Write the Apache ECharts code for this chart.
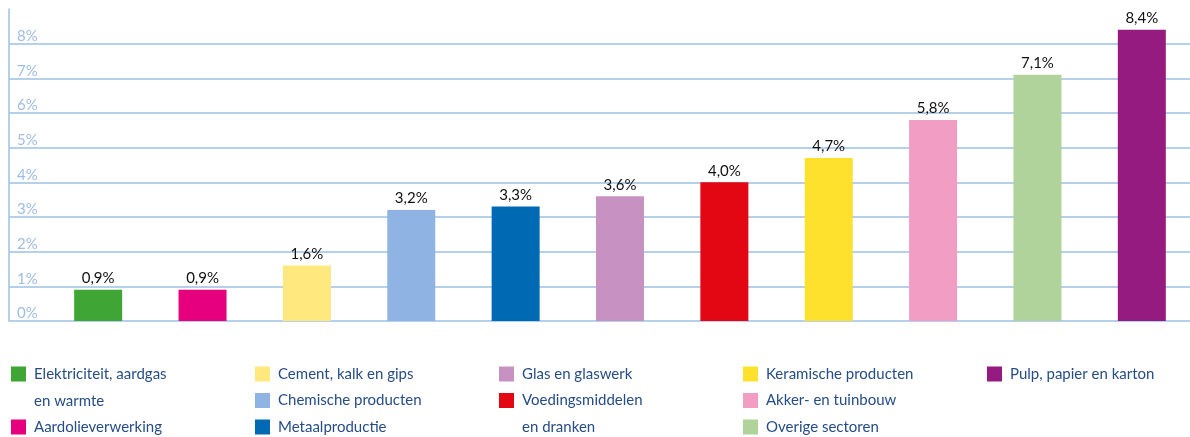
<!DOCTYPE html>
<html>
<head>
<meta charset="utf-8">
<script src="https://cdn.jsdelivr.net/npm/echarts@6/dist/echarts.min.js"></script>
<style>
  html, body { margin: 0; padding: 0; background: #fff; overflow: hidden; }
  #chart { width: 1200px; height: 437px; }
</style>
</head>
<body>
<div id="chart"></div>
<script>
// sectoren (volgorde van de staven)
const sectors = [
  'Elektriciteit, aardgas\nen warmte',
  'Aardolieverwerking',
  'Cement, kalk en gips',
  'Chemische producten',
  'Metaalproductie',
  'Glas en glaswerk',
  'Voedingsmiddelen\nen dranken',
  'Keramische producten',
  'Akker- en tuinbouw',
  'Overige sectoren',
  'Pulp, papier en karton'
]

// waarden in %
const values = [0.9, 0.9, 1.6, 3.2, 3.3, 3.6, 4.0, 4.7, 5.8, 7.1, 8.4]

const colors = [
  '#3fa535', '#e6007e', '#ffe97f', '#8fb4e3', '#0069b4', '#c792c1',
  '#e30613', '#fde12d', '#f29ec4', '#b0d29b', '#951b81'
]

// labels y-as
const yTicks = [0, 1, 2, 3, 4, 5, 6, 7, 8]

// legenda kolommen (index in sectors)
const legendColumns = [[0, 1], [2, 3, 4], [5, 6], [7, 8, 9], [10]]

const gridColor = '#9dc0e6'
const legendColor = '#264d86'
const legendLeft = [11, 255, 499, 743, 987]
const rowTop = 361
const rowH = 26.5

const chart = echarts.init(document.getElementById('chart'))

const series = sectors.map((name, i) => ({
  name: name,
  type: 'bar',
  stack: 'all',
  xAxisIndex: 1,
  yAxisIndex: 1,
  barWidth: 48,
  itemStyle: { color: colors[i] },
  data: values.map((v, j) => (j === i ? v : '-')),
  label: {
    show: true,
    position: 'top',
    distance: 4,
    color: '#111',
    fontFamily: 'Lato',
    fontSize: 15,
    formatter: p => p.value.toFixed(1).replace('.', ',') + '%'
  }
}))

const legends = legendColumns.map((col, c) => ({
  orient: 'vertical',
  left: legendLeft[c],
  top: rowTop,
  height: 150,
  padding: 0,
  itemWidth: 15,
  itemHeight: 15,
  itemGap: c === 0 ? rowH + 0.5 : 0.5,
  icon: 'rect',
  selectedMode: false,
  data: col.map(i => sectors[i]),
  formatter: name => name.split('\n')[0],
  textStyle: {
    color: legendColor,
    fontFamily: 'Lato',
    fontSize: 15,
    lineHeight: 26,
    padding: [0, 0, 0, 3]
  }
}))

// tweede regel van lange legendanamen
const extraLines = []
legendColumns.forEach((col, c) => {
  col.forEach((i, r) => {
    const parts = sectors[i].split('\n')
    if (parts.length > 1) {
      extraLines.push({
        type: 'text',
        left: legendLeft[c] + 23,
        top: rowTop + (r + 1) * rowH + 6,
        style: {
          text: parts[1],
          fill: legendColor,
          font: '15px Lato'
        }
      })
    }
  })
})

chart.setOption({
  animation: false,
  grid: [
    { left: 9, right: 10, top: 9, bottom: 116 },
    { left: 46, width: 1148, top: 9, bottom: 116 }
  ],
  xAxis: [
    { type: 'value', gridIndex: 0, show: false },
    { type: 'category', gridIndex: 1, data: sectors, show: false }
  ],
  yAxis: [
    {
      type: 'value',
      gridIndex: 0,
      min: 0,
      max: 9,
      interval: 1,
      axisLine: { show: true, lineStyle: { color: gridColor, width: 1.5 } },
      axisTick: { show: false },
      splitLine: { show: true, showMaxLine: false, lineStyle: { color: gridColor, width: 1.5 } },
      axisLabel: {
        inside: true,
        margin: 8,
        showMaxLabel: false,
        verticalAlign: 'bottom',
        padding: [0, 0, 0, 0],
        color: '#9dbde6',
        fontFamily: 'Lato',
        fontSize: 15,
        formatter: v => (yTicks.indexOf(v) >= 0 ? v + '%' : '')
      }
    },
    { type: 'value', gridIndex: 1, min: 0, max: 9, show: false }
  ],
  legend: legends,
  graphic: extraLines,
  series: series
})
</script>
</body>
</html>
